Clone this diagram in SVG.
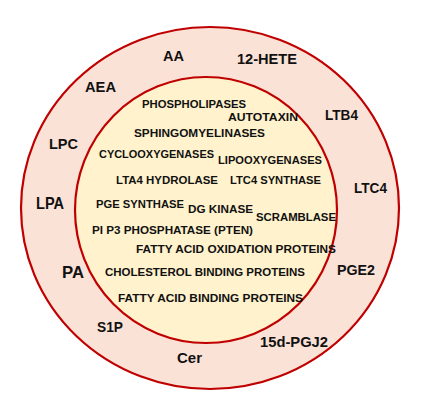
<svg xmlns="http://www.w3.org/2000/svg" width="429" height="404" viewBox="0 0 429 404">
<style>
.ring{stroke:#c00000;stroke-width:2.2}
text{font-family:"Liberation Sans",Arial,sans-serif;font-weight:bold;fill:#111}
.o{font-size:15.5px}
.b{font-size:16.5px}
.i{font-size:11.5px}
</style>
<rect width="429" height="404" fill="#ffffff"/>
<g id="outer-ring">
<ellipse class="ring" cx="210" cy="208" rx="189" ry="181" fill="#fbe2d7"/>
</g>
<g id="inner-circle">
<ellipse class="ring" cx="206" cy="210" rx="131" ry="133" fill="#fff2cc"/>
</g>
<g id="connectors"></g>
<g id="outer-labels">
<text class="o" x="163" y="61" textLength="21" lengthAdjust="spacingAndGlyphs">AA</text>
<text class="o" x="237" y="64" textLength="60" lengthAdjust="spacingAndGlyphs">12-HETE</text>
<text class="o" x="85" y="92" textLength="31" lengthAdjust="spacingAndGlyphs">AEA</text>
<text class="o" x="325" y="120" textLength="33" lengthAdjust="spacingAndGlyphs">LTB4</text>
<text class="o" x="49" y="149" textLength="29" lengthAdjust="spacingAndGlyphs">LPC</text>
<text class="b" x="36" y="209" textLength="28" lengthAdjust="spacingAndGlyphs">LPA</text>
<text class="o" x="354" y="193" textLength="33" lengthAdjust="spacingAndGlyphs">LTC4</text>
<text class="b" x="62" y="278" textLength="22" lengthAdjust="spacingAndGlyphs">PA</text>
<text class="o" x="337" y="275" textLength="38" lengthAdjust="spacingAndGlyphs">PGE2</text>
<text class="o" x="97" y="332" textLength="26" lengthAdjust="spacingAndGlyphs">S1P</text>
<text class="o" x="260" y="347" textLength="68" lengthAdjust="spacingAndGlyphs">15d-PGJ2</text>
<text class="o" x="177" y="363" textLength="25" lengthAdjust="spacingAndGlyphs">Cer</text>
</g>
<g id="inner-labels">
<text class="i" x="142" y="108" textLength="104" lengthAdjust="spacingAndGlyphs">PHOSPHOLIPASES</text>
<text class="i" x="228" y="121" textLength="70" lengthAdjust="spacingAndGlyphs">AUTOTAXIN</text>
<text class="i" x="134" y="137" textLength="131" lengthAdjust="spacingAndGlyphs">SPHINGOMYELINASES</text>
<text class="i" x="99" y="158" textLength="115" lengthAdjust="spacingAndGlyphs">CYCLOOXYGENASES</text>
<text class="i" x="218" y="164" textLength="104" lengthAdjust="spacingAndGlyphs">LIPOOXYGENASES</text>
<text class="i" x="116" y="184" textLength="102" lengthAdjust="spacingAndGlyphs">LTA4 HYDROLASE</text>
<text class="i" x="230" y="184" textLength="91" lengthAdjust="spacingAndGlyphs">LTC4 SYNTHASE</text>
<text class="i" x="96" y="208" textLength="88" lengthAdjust="spacingAndGlyphs">PGE SYNTHASE</text>
<text class="i" x="188" y="213" textLength="65" lengthAdjust="spacingAndGlyphs">DG KINASE</text>
<text class="i" x="256" y="221" textLength="80" lengthAdjust="spacingAndGlyphs">SCRAMBLASE</text>
<text class="i" x="92" y="234" textLength="161" lengthAdjust="spacingAndGlyphs">PI P3 PHOSPHATASE (PTEN)</text>
<text class="i" x="136" y="253" textLength="200" lengthAdjust="spacingAndGlyphs">FATTY ACID OXIDATION PROTEINS</text>
<text class="i" x="105" y="276" textLength="200" lengthAdjust="spacingAndGlyphs">CHOLESTEROL BINDING PROTEINS</text>
<text class="i" x="118" y="302" textLength="185" lengthAdjust="spacingAndGlyphs">FATTY ACID BINDING PROTEINS</text>
</g>
</svg>
